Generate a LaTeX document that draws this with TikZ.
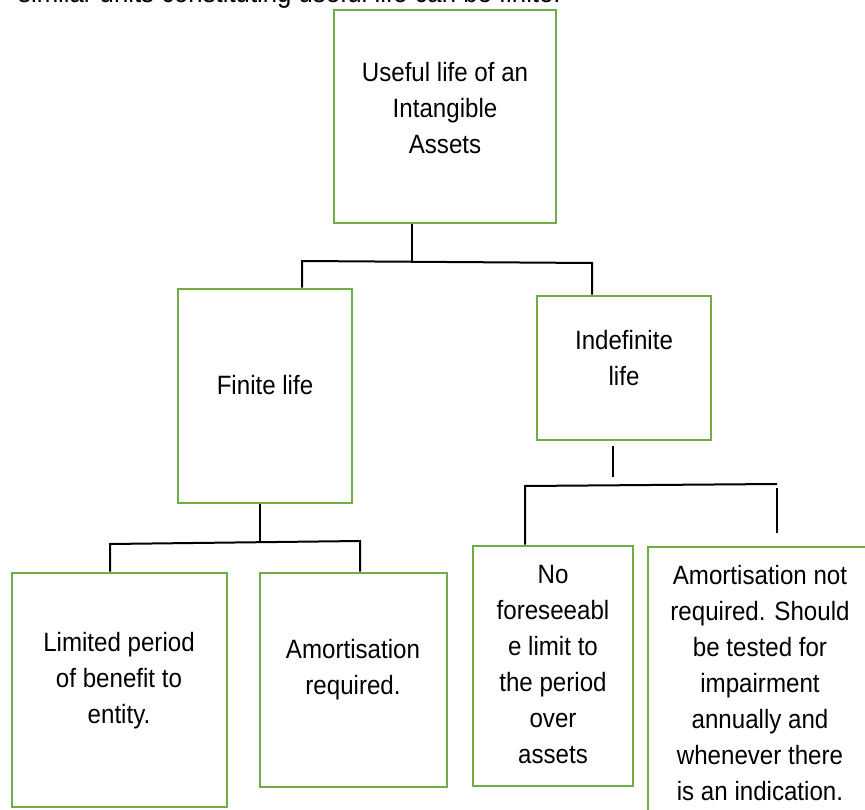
\documentclass[tikz,border=0pt]{standalone}
\usepackage{fontspec}
\setmainfont{Liberation Sans}[FakeStretch=0.91]
\definecolor{boxgreen}{HTML}{70AD47}
\begin{document}
\begin{tikzpicture}[x=1pt,y=-1pt,
  box/.style={draw=boxgreen, line width=2.6pt, inner sep=0pt, rectangle},
  txt/.style={align=center, inner sep=0pt, font=\fontsize{26.5}{36}\selectfont},
  conn/.style={draw=black, line width=2pt}]
\useasboundingbox (0,0) rectangle (865,810);
\clip (0,0) rectangle (865,810);
\fill[white] (0,0) rectangle (865,810);
% cut-off heading line
\node[anchor=base west, inner sep=0pt, font=\fontsize{28.3}{34}\selectfont] (head) at (18,3) {similar units constituting useful life can be finite.};
% boxes
\node[box, minimum width=222pt, minimum height=213pt] (top) at (445,116.5) {};
\node[box, minimum width=174pt, minimum height=214pt] (finite) at (265,396) {};
\node[box, minimum width=174pt, minimum height=144pt] (indef) at (624,368) {};
\node[box, minimum width=215pt, minimum height=234pt] (limited) at (119.5,690) {};
\node[box, minimum width=187pt, minimum height=214pt] (amreq) at (353.5,680) {};
\node[box, minimum width=160pt, minimum height=240pt] (nofore) at (553,666) {};
\node[box, minimum width=232pt, minimum height=283pt] (amnot) at (764,688.5) {};
% texts
\node[txt] (ttop) at (445,108) {Useful life of an\\Intangible\\Assets};
\node[txt] (tfinite) at (265,385) {Finite life};
\node[txt] (tindef) at (624,358) {Indefinite\\life};
\node[txt] (tlimited) at (119,681) {Limited period\\of benefit to\\entity.};
\node[txt] (tamreq) at (353,670) {Amortisation\\required.};
\node[txt] (tnofore) at (553,665) {No\\foreseeabl\\e limit to\\the period\\over\\assets};
\node[txt] (tamnot) at (760,683) {Amortisation not\\required. Should\\be tested for\\impairment\\annually and\\whenever there\\is an indication.};
% connectors: top level
\coordinate (j1) at (412,262);
\coordinate (a1) at (302,261);
\coordinate (a2) at (592,263);
\draw[conn] (j1 |- top.south) -- (j1);
\draw[conn] (a1 |- finite.north) -- (a1) -- (a2) -- (a2 |- indef.north);
% finite branch
\coordinate (j2) at (260,543);
\coordinate (b1) at (110,544);
\coordinate (b2) at (360,541);
\draw[conn] (j2 |- finite.south) -- (j2);
\draw[conn] (b1 |- limited.north) -- (b1) -- (b2) -- (b2 |- amreq.north);
% indefinite branch
\coordinate (k1) at (613,446);
\coordinate (k2) at (613,477);
\draw[conn] (k1) -- (k2);
\coordinate (c1) at (525,486);
\coordinate (c2) at (777,484);
\coordinate (c3) at (777,488);
\coordinate (c4) at (777,533);
\draw[conn] (c1 |- nofore.north) -- (c1) -- (c2);
\draw[conn] (c3) -- (c4);
\end{tikzpicture}
\end{document}
